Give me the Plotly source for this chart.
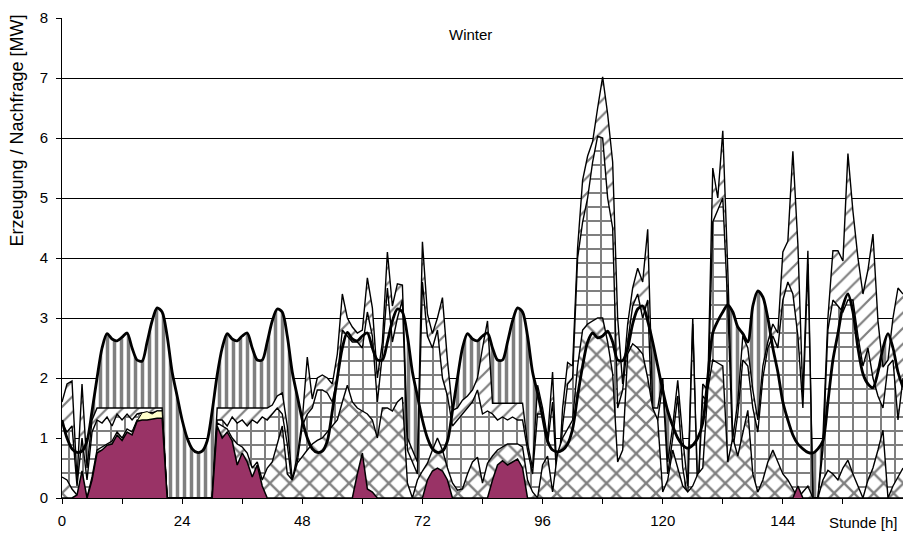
import plotly.graph_objects as go

# Hour of the week (0 .. 168)
hours = list(range(169))

# Electricity demand [MW], hourly (smoothed line)
nachfrage = [
    1.3, 1.0, 0.82, 0.76, 0.78, 0.95, 1.45, 2.0, 2.5, 2.74, 2.65, 2.62, 2.68, 2.75, 2.5, 2.3, 2.28, 2.6, 2.95, 3.17, 3.1, 2.7, 2.1, 1.7,
    1.3, 1.0, 0.82, 0.76, 0.78, 0.95, 1.45, 2.05, 2.5, 2.74, 2.65, 2.62, 2.7, 2.75, 2.5, 2.3, 2.3, 2.6, 2.95, 3.15, 3.1, 2.7, 2.1, 1.7,
    1.3, 1.0, 0.82, 0.76, 0.78, 0.95, 1.45, 2.0, 2.5, 2.76, 2.65, 2.62, 2.7, 2.75, 2.5, 2.3, 2.3, 2.6, 2.95, 3.15, 3.1, 2.7, 2.1, 1.7,
    1.3, 1.0, 0.82, 0.76, 0.78, 0.95, 1.45, 2.0, 2.5, 2.74, 2.65, 2.62, 2.7, 2.75, 2.5, 2.3, 2.3, 2.6, 2.95, 3.17, 3.1, 2.7, 2.1, 1.75,
    1.35, 0.95, 0.8, 0.77, 0.8, 0.9, 1.15, 1.7, 2.2, 2.6, 2.75, 2.67, 2.7, 2.78, 2.6, 2.3, 2.29, 2.5, 2.9, 3.15, 3.2, 2.95, 2.6, 2.2,
    1.8, 1.45, 1.2, 1.0, 0.88, 0.83, 0.88, 1.0, 1.25, 2.0, 2.75, 2.95, 3.1, 3.22, 3.1, 2.85, 2.74, 2.6, 3.2, 3.45, 3.35, 3.0, 2.5, 2.1,
    1.6, 1.3, 1.05, 0.9, 0.82, 0.76, 0.75, 0.82, 0.95, 1.6, 2.3, 2.74, 3.2, 3.4, 3.1, 2.5, 2.07, 1.9, 1.84, 2.1, 2.5, 2.74, 2.5, 2.1,
    1.84,
]

# Total generation [MW] (diagonal hatch, rearmost layer)
erzeugung_gesamt = [
    1.6, 1.9, 1.95, 0.3, 1.9, 0.5, 1.3, 1.5, 1.5, 1.5, 1.5, 1.5, 1.5, 1.5, 1.5, 1.5, 1.5, 1.5, 1.5, 1.5, 1.5, 0, 0, 0,
    0, 0, 0, 0, 0, 0, 0, 1.5, 1.5, 1.5, 1.5, 1.5, 1.5, 1.5, 1.5, 1.5, 1.5, 1.5, 1.55, 1.7, 1.75, 1.2, 0.3, 0.7,
    1.3, 2.35, 1.65, 2.0, 2.05, 2.0, 1.9, 2.4, 3.4, 3.0, 2.85, 2.75, 2.8, 3.67, 3.17, 2.0, 2.6, 4.1, 3.2, 3.57, 3.55, 1.0, 0.8, 0.6,
    4.27, 3.07, 2.74, 3.0, 3.34, 2.29, 1.46, 1.5, 1.63, 1.7, 1.8, 2.0, 2.5, 2.95, 1.58, 1.58, 1.58, 1.58, 1.58, 1.58, 1.58, 0.9, 0.5, 1.88,
    1.5, 1.0, 2.1, 0.1, 1.5, 2.26, 2.2, 4.17, 5.3, 5.7, 5.94, 6.5, 7.02, 6.4, 5.6, 3.0, 1.9, 2.9, 3.5, 3.83, 3.6, 4.48, 1.5, 1.5,
    2.0, 0.6, 1.2, 1.96, 1.0, 0.2, 3.0, 0, 1.9, 1.8, 5.5, 5.0, 6.12, 3.8, 1.0, 1.6, 2.7, 2.5, 1.8, 1.3, 2.2, 2.6, 2.9, 2.75,
    4.1, 4.28, 5.78, 4.23, 1.7, 4.12, 0, 0, 1.0, 3.0, 4.12, 4.12, 3.95, 5.74, 4.78, 4.0, 3.4, 3.8, 4.4, 2.95, 2.18, 2.3, 3.0, 3.5,
    3.4,
]

# Second layer [MW] (square grid hatch)
erzeugung_gitter = [
    1.25, 1.1, 1.2, 0.2, 1.0, 0.3, 1.1, 1.3, 1.25, 1.35, 1.2, 1.4, 1.3, 1.4, 1.3, 1.4, 1.42, 1.42, 1.42, 1.45, 1.45, 0, 0, 0,
    0, 0, 0, 0, 0, 0, 0, 1.3, 1.3, 1.2, 1.35, 1.25, 1.3, 1.2, 1.3, 1.25, 1.35, 1.3, 1.4, 1.5, 1.4, 0.9, 0.2, 0.6,
    1.2, 1.4, 1.5, 1.8, 1.8, 1.75, 1.6, 2.0, 2.8, 2.7, 2.6, 2.6, 2.5, 3.1, 2.7, 1.6, 2.4, 3.5, 2.6, 3.0, 3.3, 0.8, 0.6, 0.4,
    3.6, 2.7, 2.5, 2.8, 2.0, 1.7, 1.2, 1.3, 1.4, 1.5, 1.6, 1.8, 1.4, 1.45, 1.4, 1.3, 1.35, 1.3, 1.35, 1.3, 1.3, 0.8, 0.4, 1.4,
    1.4, 0.9, 1.6, 0.05, 1.2, 1.9, 2.0, 4.0, 4.6, 5.0, 5.6, 6.03, 6.0, 5.0, 4.5, 1.5, 1.8, 2.6, 3.2, 3.4, 3.0, 3.3, 1.0, 1.3,
    1.9, 0.4, 1.0, 1.7, 0.5, 0.0, 2.9, 0.0, 1.7, 1.6, 4.6, 4.8, 5.0, 3.2, 0.8, 1.4, 2.3, 2.2, 1.5, 1.1, 2.0, 2.5, 2.7, 2.5,
    3.3, 3.6, 3.4, 2.7, 1.5, 3.9, 0, 0, 0.8, 2.8, 3.3, 3.2, 3.1, 3.3, 3.3, 2.7, 2.2, 2.5, 2.0, 1.7, 1.5, 2.2, 2.3, 1.3,
    2.0,
]

# Third layer [MW] (diagonal cross hatch)
erzeugung_kreuz = [
    0.35, 0.3, 0.15, 0.05, 0.1, 0.0, 0.35, 0.8, 0.85, 0.9, 0.95, 1.1, 1.0, 1.15, 1.1, 1.3, 1.32, 1.32, 1.35, 1.36, 1.36, 0, 0, 0,
    0, 0, 0, 0, 0, 0, 0, 1.25, 1.2, 1.15, 1.0, 0.9, 0.85, 0.75, 0.5, 0.6, 0.3, 0.5, 0.6, 0.9, 1.2, 0.4, 0.3, 0.58,
    0.7, 0.8, 0.9, 0.96, 1.0, 1.1, 1.2, 1.3, 1.6, 1.88, 1.6, 1.5, 1.45, 1.4, 1.3, 1.0, 1.5, 1.5, 1.45, 1.6, 1.68, 0.25, 0, 0.3,
    0.45, 0.58, 0.8, 1.0, 0.8, 0.5, 0.25, 0.13, 0.15, 0.4, 0.6, 0.68, 0.25, 0.58, 0.7, 0.8, 0.85, 0.9, 0.9, 0.9, 0.85, 0.3, 0.1, 0,
    0.55, 0.7, 0.1, 0.75, 1.0, 1.15, 1.3, 2.2, 2.8, 2.9, 2.95, 3.0, 3.0, 2.6, 2.07, 0.6, 0.8, 2.4, 2.57, 2.5, 2.4, 2.0, 1.5, 1.3,
    0.1, 0.3, 0.8, 0.5, 0.2, 0.1, 0.2, 0.4, 0.5, 1.8, 2.3, 2.25, 2.2, 0.6, 1.0, 0.7, 1.08, 1.46, 0.4, 0.1, 0.3, 0.6, 0.8, 0.6,
    0.4, 0.3, 0.15, 0.0, 0.1, 0.2, 0, 0, 0.3, 0.46, 0.4, 0.3, 0.5, 0.63, 0.4, 0.2, 0, 0.3, 0.5, 0.8, 1.13, 0, 0.2, 0.35,
    0.5,
]

# Small light-yellow layer (afternoon of day one only)
gelb_stunden = [14, 15, 16, 17, 18, 19, 20, 21]
erzeugung_gelb = [1.1, 1.28, 1.42, 1.44, 1.40, 1.45, 1.45, 0]

# Front layer [MW] (solid purple)
erzeugung_lila = [
    0, 0, 0, 0.05, 0.45, 0, 0.3, 0.75, 0.8, 0.88, 0.9, 1.05, 0.96, 1.1, 1.05, 1.28, 1.3, 1.3, 1.32, 1.33, 1.33, 0, 0, 0,
    0, 0, 0, 0, 0, 0, 0, 1.2, 1.0, 1.1, 0.95, 0.55, 0.75, 0.6, 0.35, 0.55, 0.2, 0, 0, 0, 0, 0, 0, 0,
    0, 0, 0, 0, 0, 0, 0, 0, 0, 0, 0, 0.4, 0.75, 0.15, 0.1, 0, 0, 0, 0, 0, 0, 0, 0, 0,
    0, 0.3, 0.45, 0.5, 0.45, 0.3, 0, 0, 0, 0, 0, 0, 0, 0, 0.3, 0.55, 0.62, 0.55, 0.6, 0.65, 0.5, 0, 0, 0,
    0, 0, 0, 0, 0, 0, 0, 0, 0, 0, 0, 0, 0, 0, 0, 0, 0, 0, 0, 0, 0, 0, 0, 0,
    0, 0, 0, 0, 0, 0, 0, 0, 0, 0, 0, 0, 0, 0, 0, 0, 0, 0, 0, 0, 0, 0, 0, 0,
    0, 0, 0, 0.2, 0, 0, 0, 0, 0, 0, 0, 0, 0, 0, 0, 0, 0, 0, 0, 0, 0, 0, 0, 0,
    0,
]

x_tick_vals = [0, 12, 24, 36, 48, 60, 72, 84, 96, 108, 120, 132, 144, 156]
x_tick_text = ["0", "", "24", "", "48", "", "72", "", "96", "", "120", "", "144", ""]
y_tick_vals = [0, 1, 2, 3, 4, 5, 6, 7, 8]

FONT = "Liberation Sans, Arial, sans-serif"
OUTLINE = dict(color="black", width=1.4)


def hatch(shape, size, solidity):
    return dict(shape=shape, size=size, solidity=solidity,
                fgcolor="black", bgcolor="white")


fig = go.Figure()

# Demand as vertical-stripe area in the background
fig.add_trace(go.Scatter(
    x=hours, y=nachfrage, mode="lines", line=dict(color="black", width=0, shape="spline"),
    fill="tozeroy", fillcolor="white", fillpattern=hatch("|", 7, 0.5), hoverinfo="skip"))

fig.add_trace(go.Scatter(
    x=hours, y=erzeugung_gesamt, mode="lines", line=OUTLINE,
    fill="tozeroy", fillcolor="white", fillpattern=hatch("/", 11, 0.2)))

fig.add_trace(go.Scatter(
    x=hours, y=erzeugung_gitter, mode="lines", line=OUTLINE,
    fill="tozeroy", fillcolor="white", fillpattern=hatch("+", 14, 0.2653)))

fig.add_trace(go.Scatter(
    x=hours, y=erzeugung_kreuz, mode="lines", line=OUTLINE,
    fill="tozeroy", fillcolor="white", fillpattern=hatch("x", 14, 0.3)))

fig.add_trace(go.Scatter(
    x=gelb_stunden, y=erzeugung_gelb, mode="lines", line=dict(color="black", width=1),
    fill="tozeroy", fillcolor="#FFFFCC"))

fig.add_trace(go.Scatter(
    x=hours, y=erzeugung_lila, mode="lines", line=dict(color="black", width=1.5),
    fill="tozeroy", fillcolor="#993366"))

# Demand curve on top
fig.add_trace(go.Scatter(
    x=hours, y=nachfrage, mode="lines",
    line=dict(color="black", width=2.8, shape="spline", smoothing=0.8)))

fig.update_layout(
    width=912, height=539,
    margin=dict(l=62, r=9, t=16, b=41),
    paper_bgcolor="white", plot_bgcolor="white",
    showlegend=False,
    font=dict(family=FONT, size=15, color="black"),
    xaxis=dict(
        range=[0, 168], tickmode="array", tickvals=x_tick_vals, ticktext=x_tick_text,
        ticks="outside", ticklen=5, tickcolor="black", showgrid=False, zeroline=False,
        showline=True, linecolor="black", linewidth=1, ticklabelstandoff=4,
    ),
    yaxis=dict(
        range=[0, 8], tickmode="array", tickvals=y_tick_vals,
        ticks="outside", ticklen=5, tickcolor="black",
        showgrid=True, gridcolor="black", gridwidth=1, zeroline=False,
        showline=True, linecolor="black", linewidth=1, ticklabelstandoff=5,
    ),
    annotations=[
        dict(text="Winter", x=81.6, y=7.73, xref="x", yref="y",
             showarrow=False, font=dict(size=15)),
        dict(text="Stunde [h]", x=160, y=-0.05, xref="x", yref="paper",
             showarrow=False, yanchor="middle", font=dict(size=15)),
        dict(text="Erzeugung / Nachfrage [MW]", textangle=-90,
             x=-0.0535, y=0.7656, xref="paper", yref="paper",
             xanchor="center", yanchor="middle",
             showarrow=False, font=dict(size=18)),
    ],
)

fig.write_html("out.html")
